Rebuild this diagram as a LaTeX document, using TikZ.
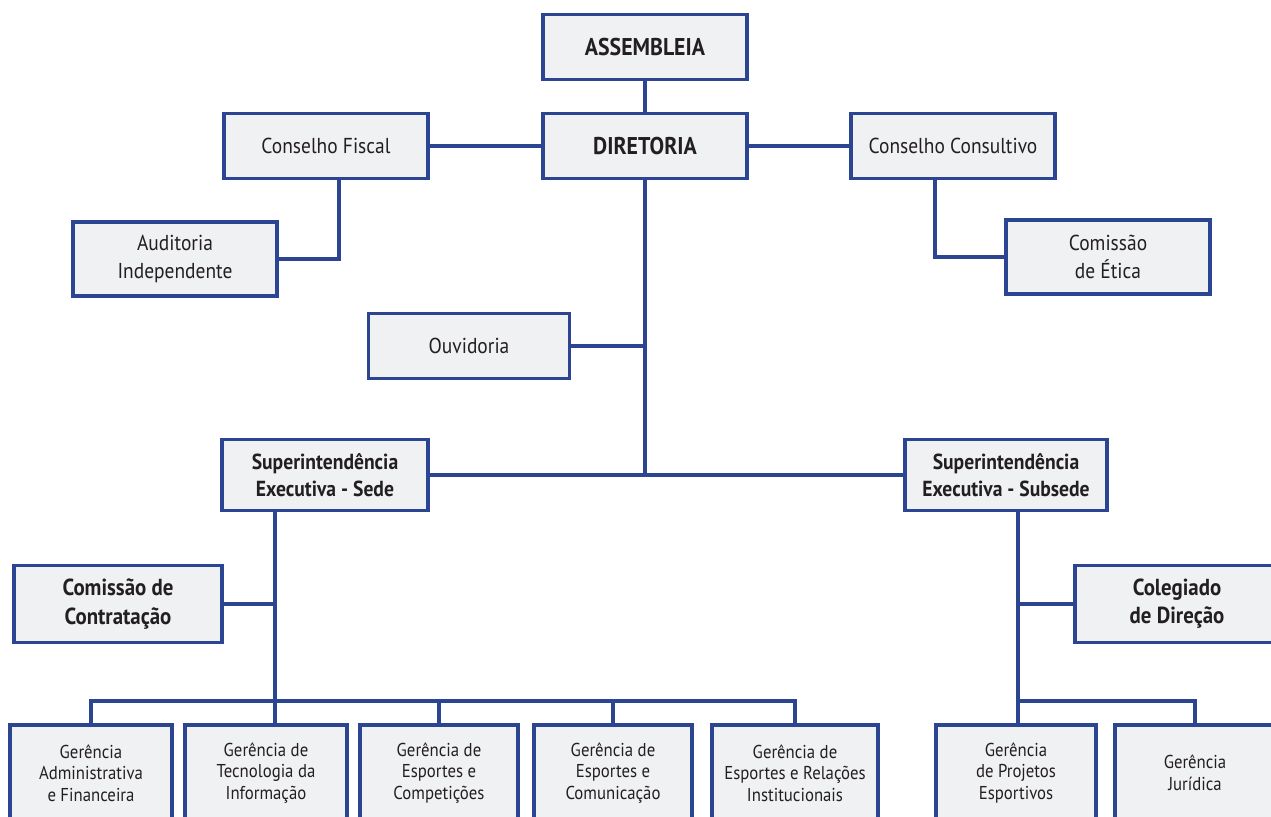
\documentclass[tikz,border=0pt]{standalone}
\usepackage{fontspec}
\setmainfont{PT Sans}[FakeStretch=0.9]
\usepackage{tikz}
\usetikzlibrary{positioning,calc}
\definecolor{orgblue}{HTML}{2B4593}
\definecolor{boxgray}{HTML}{F0F1F3}
\definecolor{inkgray}{HTML}{231F20}

\begin{document}
\begin{tikzpicture}[x=0.02cm,y=-0.02cm,line width=1.9pt,orgblue]
\tikzstyle{box}=[draw=orgblue, fill=boxgray, text=inkgray, align=center, inner sep=2pt, minimum width=4.08cm, minimum height=1.3cm, font=\fontsize{12.3}{15.5}\selectfont]
\tikzstyle{headbox}=[box, font=\fontsize{13.8}{16}\selectfont\bfseries]
\tikzstyle{supbox}=[box, minimum height=1.42cm, font=\fontsize{12.4}{15.2}\selectfont\bfseries]
\tikzstyle{sidebox}=[box, minimum width=4.16cm, minimum height=1.54cm, font=\fontsize{13.2}{16}\selectfont\bfseries]
\tikzstyle{gbox}=[box, minimum width=3.2cm, minimum height=1.92cm, font=\fontsize{10.6}{12.3}\selectfont]
\useasboundingbox (0,0) rectangle (1271,816);
\clip (0,0) rectangle (1271,816);
% top levels
\node[headbox] (assem) at (645,47) {ASSEMBLEIA};
\node[headbox] (dir) at (645,146) {DIRETORIA};
\node[box] (fiscal) at (326,146) {Conselho Fiscal};
\node[box] (consult) at (953,146) {Conselho Consultivo};
\node[box, minimum height=1.48cm] (audit) at (175,259) {Auditoria\\Independente};
\node[box, minimum height=1.48cm] (etica) at (1108,257) {Comissão\\de Ética};
\node[box, minimum width=4.02cm] (ouv) at (469,346) {Ouvidoria};
% superintendencias
\node[supbox, minimum width=4.12cm] (sede) at (325,475) {Superintendência\\Executiva - Sede};
\node[supbox, minimum width=4.04cm] (subsede) at (1006,475) {Superintendência\\Executiva - Subsede};
\node[sidebox] (contrat) at (118,604) {Comissão de\\Contratação};
\node[sidebox, minimum width=4.08cm] (coleg) at (1177,604) {Colegiado\\de Direção};
% gerencias
\node[gbox, minimum width=3.24cm] (g1) at (91,773) {Gerência\\Administrativa\\e Financeira};
\node[gbox, minimum width=3.24cm] (g2) at (266,773) {Gerência de\\Tecnologia da\\Informação};
\node[gbox, minimum width=3.16cm] (g3) at (439,773) {Gerência de\\Esportes e\\Competições};
\node[gbox, minimum width=3.16cm] (g4) at (613,773) {Gerência de\\Esportes e\\Comunicação};
\node[gbox, minimum width=3.32cm] (g5) at (795,773) {Gerência de\\Esportes e Relações\\Institucionais};
\node[gbox] (g6) at (1016,773) {Gerência\\de Projetos\\Esportivos};
\node[gbox] (g7) at (1195,773) {Gerência\\Jurídica};
\coordinate (sedebus) at (275,701);
\coordinate (subbus) at (1018,701);
% connectors
\draw (assem) -- (dir);
\draw (fiscal) -- (dir);
\draw (dir) -- (consult);
\draw (fiscal.south) ++(13,0) |- (audit.east);
\draw (consult.south) ++(-18,0) |- (etica.west);
\draw (ouv.east) -- (ouv.east -| dir.south);
\draw (dir.south) -- (dir.south |- sede.east);
\draw (sede.east) -- (subsede.west);
\draw (sedebus |- sede.south) -- (sedebus |- g2.north);
\draw (contrat.east) -- (contrat.east -| sedebus);
\foreach \g in {g1,g3,g4,g5} \draw (\g.north) |- (sedebus);
\draw (subbus |- subsede.south) -- (subbus |- g6.north);
\draw (coleg.west) -- (coleg.west -| subbus);
\draw (g7.north) |- (subbus);
\end{tikzpicture}
\end{document}
